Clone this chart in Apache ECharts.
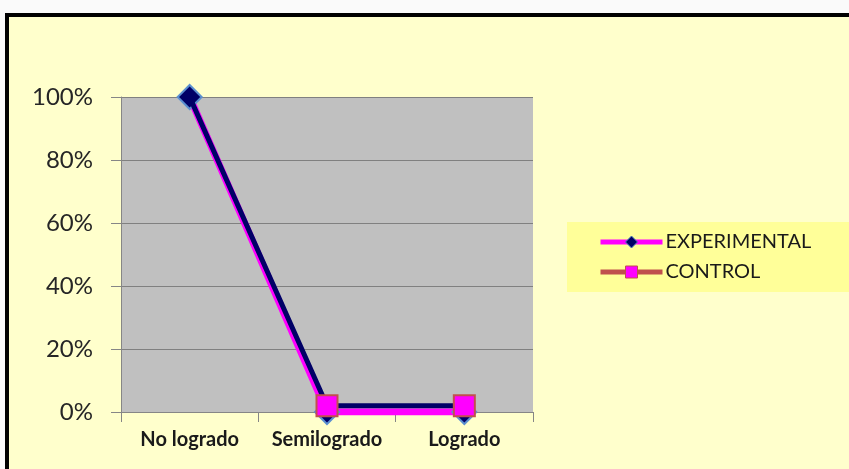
<!DOCTYPE html>
<html>
<head>
<meta charset="utf-8">
<script src="https://cdn.jsdelivr.net/npm/echarts@6/dist/echarts.min.js"></script>
<style>
  html, body { margin: 0; padding: 0; background: #fafafa; overflow: hidden; }
  /* marco del gráfico */
  #chart {
    position: absolute;
    left: 5px;
    top: 13px;
    width: 840px;
    height: 452px;
    border-left: 4px solid #000;
    border-top: 4px solid #000;
    background: #FFFFCC;
  }
</style>
</head>
<body>
<div id="chart"></div>
<script>
// datos
const categorias = ['No logrado', 'Semilogrado', 'Logrado']
const experimental = [100, 0, 0]
const control = [100, 2, 2]
const ticksY = [0, 20, 40, 60, 80, 100]

const chart = echarts.init(document.getElementById('chart'))

const option = {
  animation: false,
  textStyle: { fontFamily: 'Lato' },
  grid: {
    left: 112,
    top: 80,
    right: 316,
    bottom: 57,
    show: true,
    backgroundColor: '#C0C0C0',
    borderWidth: 0
  },
  legend: {
    left: 558,
    top: 205,
    orient: 'vertical',
    backgroundColor: '#FFFF99',
    padding: [10, 40, 10, 31],
    itemGap: 10,
    itemWidth: 62,
    itemHeight: 15,
    textStyle: { fontSize: 20, color: '#1a1a1a', fontFamily: 'Lato', padding: [0, 0, 0, -2] },
    data: [
      {
        name: 'EXPERIMENTAL',
        itemStyle: { color: '#000066', borderColor: '#4F81BD', borderWidth: 1 },
        lineStyle: { color: '#FF00FF', width: 5 }
      },
      {
        name: 'CONTROL',
        itemStyle: { color: '#FF00FF', borderColor: '#C0504D', borderWidth: 1 },
        lineStyle: { color: '#C0504D', width: 5 }
      }
    ]
  },
  xAxis: {
    type: 'category',
    data: categorias,
    boundaryGap: true,
    axisLine: { show: true, lineStyle: { color: '#868686', width: 1 } },
    axisTick: { show: true, length: 10, interval: 0, lineStyle: { color: '#868686' } },
    axisLabel: { interval: 0, hideOverlap: false, fontSize: 20, fontWeight: 'bold', color: '#1a1a1a', margin: 18, fontFamily: 'Lato' }
  },
  yAxis: {
    type: 'value',
    min: ticksY[0],
    max: ticksY[ticksY.length - 1],
    interval: 20,
    axisLine: { show: true, lineStyle: { color: '#868686', width: 1 } },
    axisTick: { show: true, length: 10, lineStyle: { color: '#868686' } },
    splitLine: { show: true, lineStyle: { color: '#808080', width: 1 } },
    axisLabel: { fontSize: 24, color: '#262626', margin: 28, formatter: '{value}%', fontFamily: 'Lato' }
  },
  series: [
    {
      name: 'CONTROL',
      type: 'line',
      data: control.map((v, i) => i === 0 ? { value: v, symbolSize: 0 } : v),
      symbol: 'rect',
      symbolSize: 21,
      lineStyle: { color: '#000066', width: 5 },
      itemStyle: { color: '#FF00FF', borderColor: '#C0504D', borderWidth: 2 },
      z: 2
    },
    {
      name: 'EXPERIMENTAL',
      type: 'line',
      data: experimental,
      symbol: 'diamond',
      symbolSize: 24,
      lineStyle: { color: '#FF00FF', width: 7 },
      itemStyle: { color: '#000066', borderColor: '#5B8FD0', borderWidth: 2 },
      z: 1
    }
  ]
}

chart.setOption(option)
</script>
</body>
</html>
